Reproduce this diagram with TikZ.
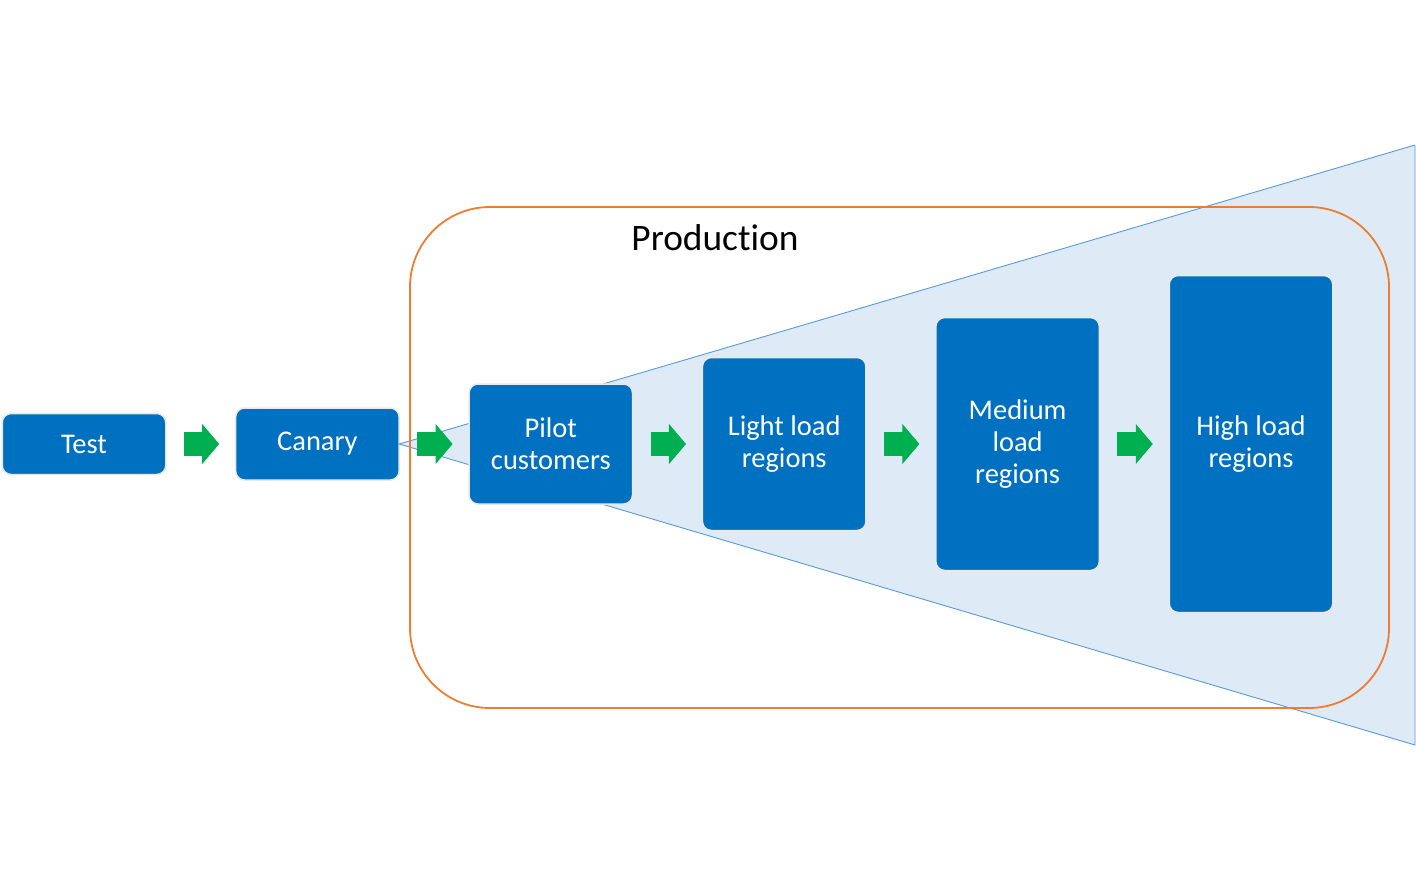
\documentclass[tikz,border=0pt]{standalone}
\usepackage{fontspec}
\setmainfont[Ligatures=NoCommon]{Carlito}
\definecolor{stageblue}{RGB}{0, 112, 192}
\definecolor{stepgreen}{RGB}{0, 176, 80}
\definecolor{prodorange}{RGB}{237, 125, 49}
\definecolor{fanfill}{RGB}{222, 234, 246}
\definecolor{fanline}{RGB}{91, 155, 213}
\usetikzlibrary{arrows.meta}
\usetikzlibrary{calc}
\usetikzlibrary{positioning}
\tikzset{
  stage/.style={
    rectangle, rounded corners=9pt,
    fill=stageblue, draw=black!9, line width=1.5pt,
    minimum width=163.5pt, inner sep=0, outer sep=0,
    align=center, text=white,
    font=\fontsize{28.5}{32}\selectfont
  },
  promote/.style={
    stepgreen, line width=24.5pt,
    -{Triangle[length=17pt,width=40pt,line width=1pt]},
    shorten <=18pt, shorten >=16.5pt
  }
}

\begin{document}
\begin{tikzpicture}[x=1pt,y=-1pt]
  \useasboundingbox (0,0) rectangle (1416,889);

  \node[stage, minimum height=61pt] (test) at (84,444) {Test};
  \node[stage, minimum height=72pt, right=69.9pt of test] (canary) {Canary};

  % production fan and frame
  \coordinate (fantop) at (1415,145);
  \coordinate (fanbot) at (1415,745);
  \fill[fanfill] (canary.east) -- (fantop) -- (fanbot) -- cycle;
  \draw[fanline, line width=0.9pt] (fantop) -- (canary.east) -- (fanbot) -- (fantop);
  \draw[prodorange, line width=1.8pt, rounded corners=80pt] (410,207) rectangle (1389,708);
  \node[font=\fontsize{37.4}{45}\selectfont] (prod) at (715,238) {Production};

  \node[stage, minimum height=120pt, right=69.9pt of canary] (pilot) {Pilot\\customers};
  \node[stage, minimum height=173pt, right=69.9pt of pilot] (light) {Light load\\regions};
  \node[stage, minimum height=253pt, right=69.9pt of light] (medium) {Medium\\load\\regions};
  \node[stage, minimum height=337pt, right=69.9pt of medium] (high) {High load\\regions};

  \draw[promote] (test.east) -- (canary.west);
  \draw[promote] (canary.east) -- (pilot.west);
  \draw[promote] (pilot.east) -- (light.west);
  \draw[promote] (light.east) -- (medium.west);
  \draw[promote] (medium.east) -- (high.west);
\end{tikzpicture}
\end{document}
